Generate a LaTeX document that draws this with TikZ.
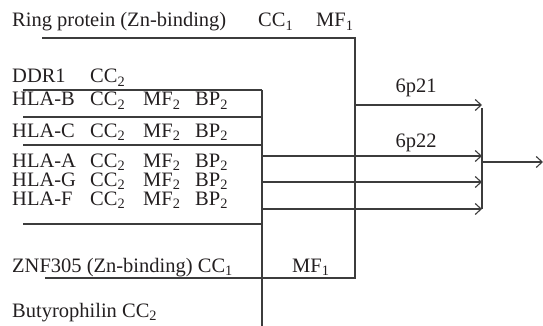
\documentclass[tikz,border=0pt]{standalone}
\usepackage{fontspec}
\setmainfont{Liberation Serif}
\usetikzlibrary{arrows.meta,positioning,calc}
\definecolor{inkgray}{HTML}{231F20}
\definecolor{linegray}{HTML}{3C3C3C}
\tikzset{
  genelabel/.style={
    anchor=base west,
    inner sep=0pt,
    text=inkgray,
    font=\fontsize{20.5}{24}\selectfont
  },
  bandlabel/.style={
    anchor=base,
    inner sep=0pt,
    text=inkgray,
    font=\fontsize{20.5}{24}\selectfont
  },
  busline/.style={draw=linegray,line width=1.1pt},
  bandarrow/.style={busline,-{Straight Barb[length=6pt,width=11pt]}}
}
\begin{document}
\begin{tikzpicture}[x=1pt,y=-1pt]
\useasboundingbox (0,0) rectangle (543,326);
% gene labels
\node[genelabel] (ring) at (12,27) {Ring protein (Zn-binding)};
\node[genelabel] (ring-cc) at (258,27) {CC\textsubscript{1}};
\node[genelabel] (ring-mf) at (316,27) {MF\textsubscript{1}};
\node[genelabel] (ddr) at (12,83) {DDR1};
\node[genelabel] (ddr-cc) at (90,83) {CC\textsubscript{2}};
\foreach \nm/\yy in {HLA-B/106,HLA-C/137,HLA-A/167,HLA-G/186,HLA-F/205}{
  \node[genelabel] (\nm) at (12,\yy) {\nm};
  \node[genelabel] (\nm-cc) at (90,\yy) {CC\textsubscript{2}};
  \node[genelabel] (\nm-mf) at (143,\yy) {MF\textsubscript{2}};
  \node[genelabel] (\nm-bp) at (195,\yy) {BP\textsubscript{2}};
}
\node[genelabel] (znf) at (12,272) {ZNF305 (Zn-binding) CC\textsubscript{1}};
\node[genelabel] (znf-mf) at (292,272) {MF\textsubscript{1}};
\node[genelabel] (btn) at (12,317) {Butyrophilin CC\textsubscript{2}};
% bands
\node[bandlabel] (p21) at (416,93) {6p21};
\node[bandlabel] (p22) at (416,147) {6p22};
% bus points
\coordinate (lbus-top) at (262,90);
\coordinate (lbus-bot) at (262,326);
\coordinate (rbus-top) at (355,38);
\coordinate (rbus-bot) at (355,278);
\coordinate (merge-top) at (482,108);
\coordinate (merge-bot) at (482,209);
\coordinate (out) at (543,162);
\coordinate (ring-start) at (42,38);
\coordinate (znf-start) at (45,278);
\foreach \yy [count=\i] in {90,117,145,224}{
  \coordinate (row\i) at (23,\yy);
}
% lines
\draw[busline] (ring-start) -- (rbus-top) -- (rbus-bot) -- (znf-start);
\draw[busline] (lbus-top) -- (lbus-bot);
\foreach \i in {1,...,4}{
  \draw[busline] (row\i) -- (row\i -| lbus-top);
}
\draw[busline] (merge-top) -- (merge-bot);
\draw[bandarrow] (rbus-top |- 0,105) -- (merge-top |- 0,105);
\foreach \yy in {156,182,209}{
  \draw[bandarrow] (lbus-top |- 0,\yy) -- (merge-top |- 0,\yy);
}
\draw[bandarrow] (out -| merge-top) -- (out);
\end{tikzpicture}
\end{document}
